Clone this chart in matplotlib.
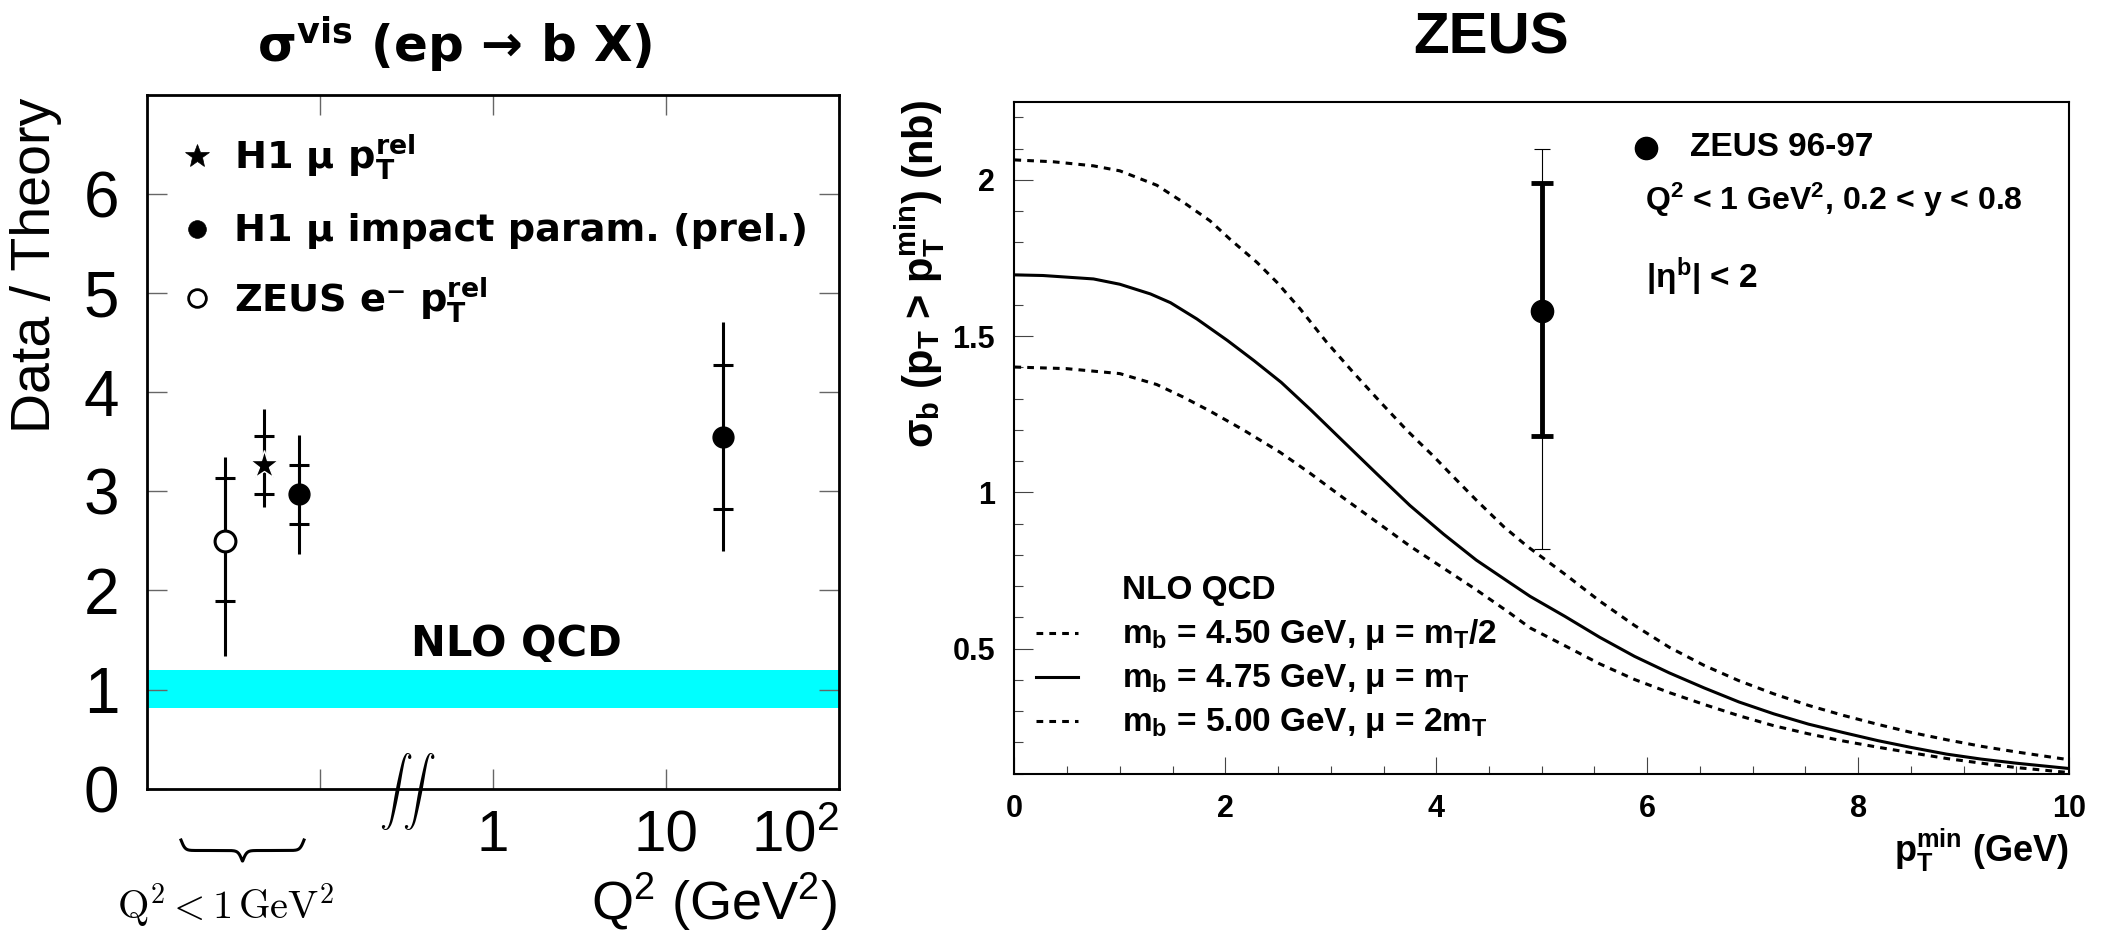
import numpy as np
import matplotlib
matplotlib.use("Agg")
import matplotlib.pyplot as plt
from matplotlib.ticker import FixedLocator, FixedFormatter, MultipleLocator, NullLocator
from matplotlib.transforms import blended_transform_factory, offset_copy
from matplotlib.lines import Line2D

plt.rcParams['mathtext.fontset'] = 'custom'
plt.rcParams['mathtext.rm'] = 'Liberation Sans'
plt.rcParams['mathtext.bf'] = 'Liberation Sans:bold'
plt.rcParams['mathtext.it'] = 'Liberation Sans:italic'
plt.rcParams['font.family'] = ['Liberation Sans', 'DejaVu Sans']

# ---------------- data: left panel (Data / Theory vs Q^2) ----------------
zeus_q2 = [0.0283]
zeus_ratio = [2.50]
zeus_stat_lo = [1.89]
zeus_stat_hi = [3.13]
zeus_tot_lo = [1.34]
zeus_tot_hi = [3.35]

h1pt_q2 = [0.0475]
h1pt_ratio = [3.27]
h1pt_stat_lo = [2.97]
h1pt_stat_hi = [3.56]
h1pt_tot_lo = [2.84]
h1pt_tot_hi = [3.83]

h1ip_q2 = [0.0754, 21.3]
h1ip_ratio = [2.97, 3.545]
h1ip_stat_lo = [2.67, 2.82]
h1ip_stat_hi = [3.27, 4.28]
h1ip_tot_lo = [2.37, 2.40]
h1ip_tot_hi = [3.57, 4.71]

nlo_band = [0.81, 1.20]
left_yticks = [0, 1, 2, 3, 4, 5, 6]
left_xticks = [0.1, 1, 10, 100]
left_xticklabels = ['', '1', '10', r'10$^{2}$']

# ---------------- data: right panel (sigma_b vs pT_min) ----------------
pt_mu_half = [0.0, 0.37, 0.75, 1.0, 1.35, 1.63, 1.855, 2.045, 2.30, 2.49, 2.71, 2.96, 3.21,
              3.47, 3.72, 3.85, 3.97, 4.13, 4.38, 4.64, 4.86, 5.22, 5.55, 5.88, 6.21, 6.54,
              6.87, 7.20, 7.53, 7.86, 8.19, 8.51, 8.84, 9.17, 9.50, 10.0]
sig_mu_half = [2.064, 2.058, 2.045, 2.029, 1.983, 1.922, 1.869, 1.810, 1.736, 1.672, 1.587,
               1.481, 1.385, 1.289, 1.199, 1.156, 1.117, 1.061, 0.975, 0.890, 0.828, 0.738,
               0.652, 0.574, 0.504, 0.446, 0.397, 0.355, 0.318, 0.286, 0.257, 0.231, 0.208,
               0.187, 0.169, 0.144]

pt_mu_one = [0.0, 0.27, 0.75, 1.0, 1.29, 1.48, 1.73, 2.02, 2.27, 2.53, 2.81, 3.06, 3.44,
             3.75, 4.07, 4.38, 4.70, 4.89, 5.22, 5.55, 5.88, 6.21, 6.54, 6.87, 7.20, 7.53,
             7.86, 8.19, 8.51, 8.84, 9.17, 9.50, 10.0]
sig_mu_one = [1.696, 1.694, 1.683, 1.666, 1.635, 1.607, 1.555, 1.486, 1.422, 1.352, 1.264,
              1.182, 1.058, 0.958, 0.866, 0.783, 0.710, 0.667, 0.603, 0.536, 0.475, 0.422,
              0.374, 0.329, 0.291, 0.258, 0.231, 0.205, 0.183, 0.162, 0.146, 0.133, 0.116]

pt_mu_two = [0.0, 0.49, 1.0, 1.35, 1.60, 1.855, 2.17, 2.52, 2.80, 3.12, 3.44, 3.75, 4.07,
             4.38, 4.70, 4.89, 5.22, 5.55, 5.88, 6.21, 6.54, 6.87, 7.20, 7.53, 7.86, 8.19,
             8.51, 8.84, 9.17, 9.50, 10.0]
sig_mu_two = [1.401, 1.396, 1.380, 1.345, 1.305, 1.260, 1.200, 1.128, 1.062, 0.982, 0.904,
              0.828, 0.757, 0.688, 0.613, 0.566, 0.509, 0.451, 0.401, 0.359, 0.321, 0.285,
              0.253, 0.227, 0.204, 0.184, 0.166, 0.148, 0.133, 0.119, 0.103]

zeus9697_pt = [5.0]
zeus9697_sig = [1.58]
zeus9697_stat_lo = [1.18]
zeus9697_stat_hi = [1.99]
zeus9697_tot_lo = [0.82]
zeus9697_tot_hi = [2.10]

right_xticks = [0, 2, 4, 6, 8, 10]
right_yticks = [0.5, 1.0, 1.5, 2.0]
right_yticklabels = ['0.5', '1', '1.5', '2']

# ---------------- figure ----------------
W, H = 2112, 931
fig = plt.figure(figsize=(W / 100, H / 100), dpi=100)


def fx(x):
    return x / W


def fy(y):
    return 1 - y / H


BOLD_L = ['DejaVu Sans']
# ---------------- left panel ----------------
ax1 = fig.add_axes([fx(147), fy(788.6), (839 - 147) / W, (788.6 - 95) / H])
ax1.set_xscale('log')
ax1.set_xlim(0.01, 100)
ax1.set_ylim(0, 7)
for s in ax1.spines.values():
    s.set_linewidth(2.0)
ax1.xaxis.set_major_locator(FixedLocator(left_xticks))
ax1.xaxis.set_major_formatter(FixedFormatter(left_xticklabels))
ax1.xaxis.set_minor_locator(NullLocator())
ax1.yaxis.set_major_locator(FixedLocator(left_yticks))
ax1.tick_params(axis='both', which='major', direction='in', length=14.5, width=1.0,
                color='#666666', top=True, right=True)
ax1.tick_params(axis='x', pad=15, labelsize=42)
ax1.tick_params(axis='y', pad=20, labelsize=46)

ax1.axhspan(nlo_band[0], nlo_band[1], color='#00FFFF', lw=0, zorder=1)


def draw_point(ax, x, y, slo, shi, tlo, thi, **mk):
    x = np.asarray(x); y = np.asarray(y)
    ax.errorbar(x, y, yerr=[y - np.asarray(tlo), np.asarray(thi) - y], fmt='none',
                ecolor='black', elinewidth=2.2, capsize=0, zorder=3)
    ax.errorbar(x, y, yerr=[y - np.asarray(slo), np.asarray(shi) - y], fmt='none',
                ecolor='black', elinewidth=2.2, capsize=7.5, capthick=2.2, zorder=3)
    ax.plot(x, y, linestyle='none', zorder=4, **mk)


draw_point(ax1, zeus_q2, zeus_ratio, zeus_stat_lo, zeus_stat_hi, zeus_tot_lo, zeus_tot_hi,
           marker='o', ms=15, mfc='white', mec='black', mew=2.2)
draw_point(ax1, h1pt_q2, h1pt_ratio, h1pt_stat_lo, h1pt_stat_hi, h1pt_tot_lo, h1pt_tot_hi,
           marker='*', ms=21, mfc='black', mec='white', mew=1.0)
draw_point(ax1, h1ip_q2, h1ip_ratio, h1ip_stat_lo, h1ip_stat_hi, h1ip_tot_lo, h1ip_tot_hi,
           marker='o', ms=15, mfc='black', mec='black')

# legend (left)
leg_l = [('*', 'black', 21, 155.6, r'H1 μ $\mathbf{p_T^{rel}}$'),
         ('o', 'black', 15, 228.6, r'H1 μ impact param. (prel.)'),
         ('o', 'white', 15, 298.0, r'ZEUS e⁻ $\mathbf{p_T^{rel}}$')]
for mk, fc, ms, yy, lab in leg_l:
    fig.add_artist(Line2D([fx(197)], [fy(yy)], marker=mk, ms=ms * 0.85, mfc=fc,
                          mec='black', mew=2.0 if fc == 'white' else 0.5, linestyle='none'))
    fig.text(fx(234), fy(yy + 2), lab, fontsize=27.5, fontweight='bold', family=BOLD_L,
             math_fontfamily='dejavusans', ha='left', va='center')

fig.text(fx(516), fy(644), 'NLO QCD', fontsize=30, fontweight='bold', family=BOLD_L,
         ha='center', va='center')

# title and axis labels (left)
fig.text(fx(455), fy(45), r'σ$^{\mathbf{vis}}$ (ep → b X)', fontsize=36, fontweight='bold',
         family=BOLD_L, math_fontfamily='dejavusans', ha='center', va='center')
fig.text(fx(36), fy(98), 'Data / Theory', fontsize=40, rotation=90, ha='center', va='top')
fig.text(fx(837), fy(902), r'Q$^2$ (GeV$^2$)', fontsize=39, ha='right', va='center')

# axis break mark on the bottom axis
tr = blended_transform_factory(ax1.transData, ax1.transAxes)
ax1.text(0.32, 0.0, r'$\int\,\int$', fontsize=24, math_fontfamily='cm',
         transform=offset_copy(tr, fig=fig, x=0, y=-2, units='points'),
         ha='center', va='center', clip_on=False, zorder=6)

# brace under low-Q2 points
bx0, bx1, btop, bh = 181, 304, 840, 21
t = np.linspace(0, 1, 200)
beta = 30.0
half = 1 / (1 + np.exp(-beta * (t - 0))) + 1 / (1 + np.exp(-beta * (t - 1)))
shape = np.concatenate([half, half[::-1]]) - 0.5
xs = np.linspace(bx0, bx1, shape.size)
ys = btop + bh * shape
fig.add_artist(Line2D(fx(xs), fy(ys), color='black', lw=2.2))
fig.text(fx(226), fy(906), r'$\mathrm{Q}^2 < 1\,\mathrm{GeV}^2$', fontsize=29,
         math_fontfamily='cm', ha='center', va='center')

# ---------------- right panel ----------------
ax2 = fig.add_axes([fx(1014.4), fy(773.5), (2069 - 1014.4) / W, (773.5 - 101.8) / H])
ax2.set_xlim(0, 10)
ax2.set_ylim(0.1, 2.25)
for s in ax2.spines.values():
    s.set_linewidth(1.5)
ax2.xaxis.set_major_locator(FixedLocator(right_xticks))
ax2.xaxis.set_minor_locator(MultipleLocator(0.5))
ax2.yaxis.set_major_locator(FixedLocator(right_yticks))
ax2.yaxis.set_major_formatter(FixedFormatter(right_yticklabels))
ax2.yaxis.set_minor_locator(MultipleLocator(0.1))
ax2.tick_params(axis='both', which='both', direction='in', width=0.8, color='#444444',
                top=False, right=False)
ax2.tick_params(axis='y', which='major', length=13.5, pad=14)
ax2.tick_params(axis='y', which='minor', length=6.5)
ax2.tick_params(axis='x', which='major', length=12, pad=15)
ax2.tick_params(axis='x', which='minor', length=6)
for lab in ax2.get_xticklabels() + ax2.get_yticklabels():
    lab.set_fontsize(22)
    lab.set_fontweight('bold')

dash = (0, (2.2, 2.0))
ax2.plot(pt_mu_half, sig_mu_half, color='black', lw=2.2, linestyle=dash)
ax2.plot(pt_mu_one, sig_mu_one, color='black', lw=2.2, linestyle='-')
ax2.plot(pt_mu_two, sig_mu_two, color='black', lw=2.2, linestyle=dash)

zx = np.asarray(zeus9697_pt); zy = np.asarray(zeus9697_sig)
ax2.errorbar(zx, zy, yerr=[zy - np.asarray(zeus9697_tot_lo), np.asarray(zeus9697_tot_hi) - zy],
             fmt='none', ecolor='black', elinewidth=0.8, capsize=6, capthick=0.8, zorder=3)
ax2.errorbar(zx, zy, yerr=[zy - np.asarray(zeus9697_stat_lo), np.asarray(zeus9697_stat_hi) - zy],
             fmt='none', ecolor='black', elinewidth=3.5, capsize=8, capthick=3.5, zorder=3)
ax2.plot(zx, zy, 'o', color='black', ms=16, zorder=4)

# legend (right)
fig.add_artist(Line2D([fx(1646)], [fy(148)], marker='o', ms=16, color='black', linestyle='none'))
fig.text(fx(1690), fy(148), 'ZEUS 96-97', fontsize=24, fontweight='bold', ha='left', va='center')
fig.text(fx(1645), fy(200), r'Q$^{\mathbf{2}}$ < 1 GeV$^{\mathbf{2}}$, 0.2 < y < 0.8',
         fontsize=23, fontweight='bold', ha='left', va='center')
fig.text(fx(1646), fy(277), r'|η$^{\mathbf{b}}$| < 2', fontsize=24, fontweight='bold',
         ha='left', va='center')

fig.text(fx(1121.7), fy(590), 'NLO QCD', fontsize=24, fontweight='bold', ha='left', va='center')
leg_r = [(dash, 633, r'$\mathbf{m_b}$ = 4.50 GeV, μ = $\mathbf{m_T}$/2'),
         ('-', 677, r'$\mathbf{m_b}$ = 4.75 GeV, μ = $\mathbf{m_T}$'),
         (dash, 721, r'$\mathbf{m_b}$ = 5.00 GeV, μ = 2$\mathbf{m_T}$')]
for ls, yy, lab in leg_r:
    fig.add_artist(Line2D([fx(1036), fx(1078)], [fy(yy), fy(yy)], color='black', lw=2.2,
                          linestyle=ls))
    fig.text(fx(1121.7), fy(yy + 2), lab, fontsize=24, fontweight='bold', ha='left', va='center')

fig.text(fx(1491), fy(39), 'ZEUS', fontsize=42, fontweight='bold', ha='center', va='center')
fig.text(fx(920), fy(100),
         r'σ$_{\mathbf{b}}$ (p$_{\mathbf{T}}$ > p$_{\mathbf{T}}^{\mathbf{min}}$) (nb)',
         fontsize=30, fontweight='bold', rotation=90, ha='center', va='top')
fig.text(fx(2069), fy(850), r'$\mathbf{p_T^{min}}$ (GeV)', fontsize=26, fontweight='bold',
         ha='right', va='center')

# last left tick label ("10^2") ends at the axis edge, as in the original
xl = ax1.get_xticklabels()
xl[-1].set_horizontalalignment('right')

fig.savefig('out.png', dpi=100)
